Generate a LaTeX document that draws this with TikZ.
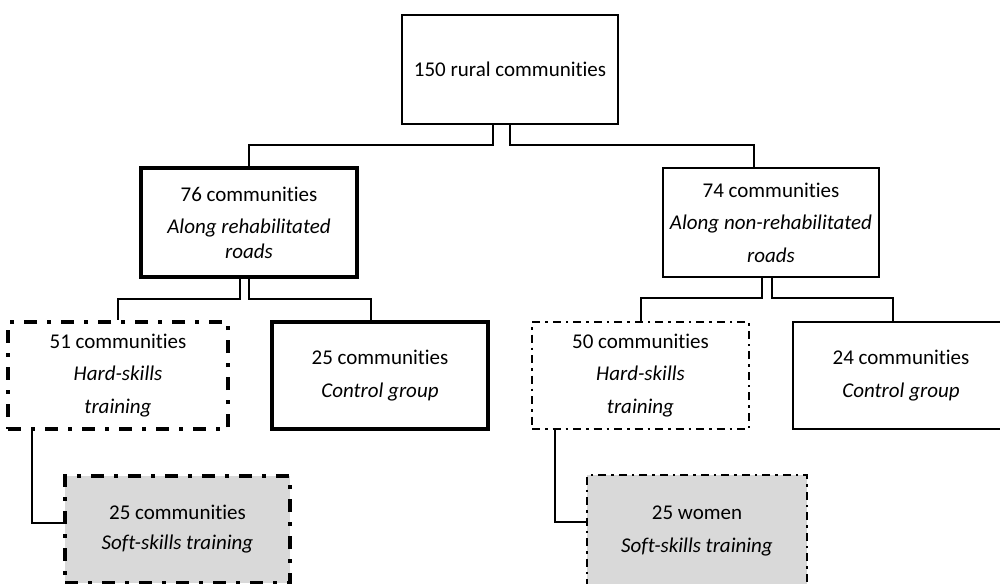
\documentclass[tikz,border=0pt]{standalone}
\usepackage{fontspec}
\setmainfont{Carlito}[Ligatures=NoCommon]
\definecolor{softgray}{HTML}{D9D9D9}
\begin{document}
\begin{tikzpicture}[x=1pt,y=-1pt,
  box/.style={rectangle,draw=black,inner sep=0pt,align=center,minimum width=216pt,minimum height=108pt,font=\fontsize{21}{32.5}\selectfont},
  conn/.style={draw=black,line width=2pt},
  heavydd/.style={line width=4.5pt,dash pattern=on 13pt off 10pt on 4pt off 10pt},
  lightdd/.style={line width=2.5pt,dash pattern=on 8pt off 5pt on 2.5pt off 5pt},
  soft/.style={fill=softgray}]
\clip (0,0) rectangle (1000,583);
\fill[white] (0,0) rectangle (1000,583);
% boxes
\node[box,line width=2pt,minimum height=109pt] (top) at (510,69.5) {\raisebox{-3pt}{150 rural communities}};
\node[box,line width=4pt,minimum height=109pt,font=\fontsize{21}{25}\selectfont] (lmid) at (249,222.5) {76 communities\\[7pt]\textit{Along rehabilitated}\\\textit{roads}};
\node[box,line width=2.5pt,minimum height=109pt] (rmid) at (771,222.5) {74 communities\\\textit{Along non-rehabilitated}\\\textit{roads}};
\node[box,heavydd,minimum width=220pt,minimum height=107pt] (b51) at (118,375.5) {51 communities\\\textit{Hard-skills}\\\textit{training}};
\node[box,line width=4.5pt,minimum height=107pt] (c25) at (380,375.5) {25 communities\\\textit{Control group}};
\node[box,lightdd,minimum width=217pt,minimum height=107pt] (b50) at (640.5,375.5) {50 communities\\\textit{Hard-skills}\\\textit{training}};
\node[box,line width=2.5pt,minimum height=107pt] (c24) at (901,375.5) {24 communities\\\textit{Control group}};
\node[box,heavydd,soft,minimum width=225pt,minimum height=107pt,font=\fontsize{21}{30}\selectfont] (sl) at (177.5,529.5) {25 communities\\\textit{Soft-skills training}};
\node[box,lightdd,soft,minimum width=220pt,minimum height=112pt] (sr) at (697,531) {25 women\\\textit{Soft-skills training}};
% connectors
\draw[conn] ([xshift=-17pt]top.south) -- ++(0,20) -| (lmid.north);
\draw[conn] (top.south) -- ++(0,20) -| ([xshift=-17pt]rmid.north);
\draw[conn] ([xshift=-9pt]lmid.south) -- ++(0,20) -| (b51.north);
\draw[conn] (lmid.south) -- ++(0,20) -| ([xshift=-9pt]c25.north);
\draw[conn] ([xshift=-9pt]rmid.south) -- ++(0,20) -| (b50.north);
\draw[conn] ([xshift=1pt]rmid.south) -- ++(0,20) -| ([xshift=-8pt]c24.north);
\draw[conn] ([xshift=-86pt]b51.south) |- ([yshift=7pt]sl.west);
\draw[conn] ([xshift=-86pt]b50.south) |- ([yshift=9pt]sr.west);
\end{tikzpicture}
\end{document}
